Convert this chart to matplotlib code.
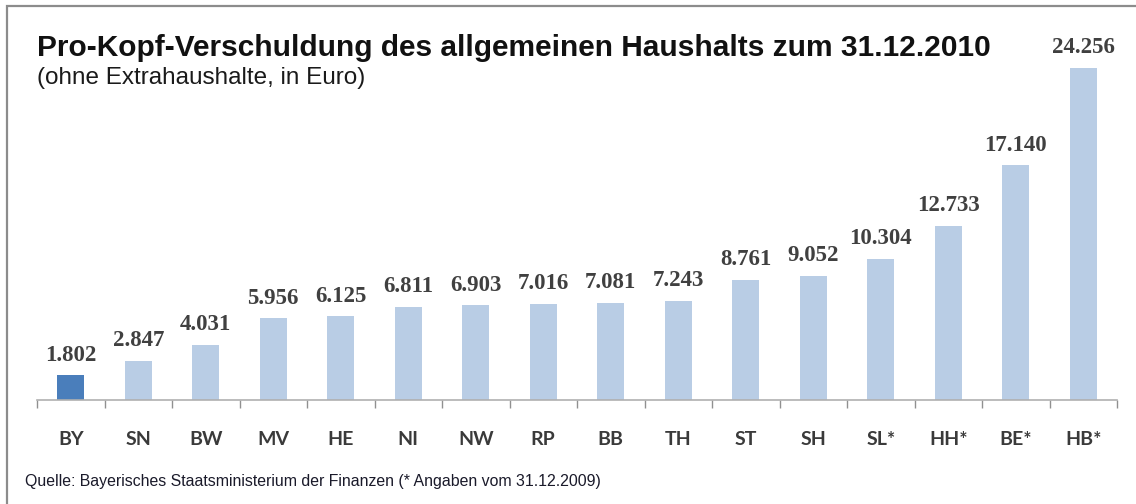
import numpy as np
import matplotlib.pyplot as plt
from matplotlib.patches import Rectangle

# Daten (Euro je Einwohner)
laender = ['BY', 'SN', 'BW', 'MV', 'HE', 'NI', 'NW', 'RP', 'BB', 'TH',
           'ST', 'SH', 'SL*', 'HH*', 'BE*', 'HB*']
schulden = [1802, 2847, 4031, 5956, 6125, 6811, 6903, 7016, 7081, 7243,
            8761, 9052, 10304, 12733, 17140, 24256]
beschriftung = ['1.802', '2.847', '4.031', '5.956', '6.125', '6.811', '6.903',
                '7.016', '7.081', '7.243', '8.761', '9.052', '10.304',
                '12.733', '17.140', '24.256']

W, H = 1136, 504
fig = plt.figure(figsize=(W / 100, H / 100), dpi=100)

# Rahmen (nur links und oben sichtbar)
fig.patches.append(Rectangle((7 / W, -0.1), 1.2, (H - 6) / H + 0.1,
                             transform=fig.transFigure, fill=False,
                             edgecolor='#8c8c8c', linewidth=1.6))

ax = fig.add_axes([37 / W, (H - 400) / H, 1080 / W, 356 / H])
x = np.arange(len(laender))
farben = ['#4a7ebb'] + ['#b9cde5'] * (len(laender) - 1)
ax.bar(x, schulden, width=0.4, color=farben)

for xi, v, t in zip(x, schulden, beschriftung):
    ax.annotate(t, (xi, v), xytext=(0, 10.5), textcoords='offset points',
                ha='center', va='baseline', fontsize=16.5, fontweight='bold',
                family='Liberation Serif', color='#404040')

ax.set_xlim(-0.5, len(laender) - 0.5)
ax.set_ylim(0, 26000)
for s in ['left', 'right', 'top']:
    ax.spines[s].set_visible(False)
ax.spines['bottom'].set_color('#b0b0b0')
ax.spines['bottom'].set_linewidth(1.2)
ax.set_yticks([])
ax.set_xticks(np.arange(len(laender) + 1) - 0.5, minor=True)
ax.set_xticks(x)
ax.set_xticklabels(laender, fontsize=14, fontweight='bold', family='Lato',
                   color='#3a3a3a')
ax.tick_params(axis='x', which='major', length=0, pad=22)
ax.tick_params(axis='x', which='minor', length=6, width=1, color='#909090')

fig.text(37 / W, 1 - 56 / H, 'Pro-Kopf-Verschuldung des allgemeinen Haushalts zum 31.12.2010',
         fontsize=21.5, fontweight='bold', family='Liberation Sans', color='#111111',
         va='baseline')
fig.text(37 / W, 1 - 84 / H, '(ohne Extrahaushalte, in Euro)',
         fontsize=17.5, family='Liberation Sans', color='#1a1a1a', va='baseline')
fig.text(25 / W, 1 - 486 / H,
         'Quelle: Bayerisches Staatsministerium der Finanzen (* Angaben vom 31.12.2009)',
         fontsize=11.4, family='Liberation Sans', color='#1a1a2a', va='baseline')

fig.savefig('out.png', dpi=100)
